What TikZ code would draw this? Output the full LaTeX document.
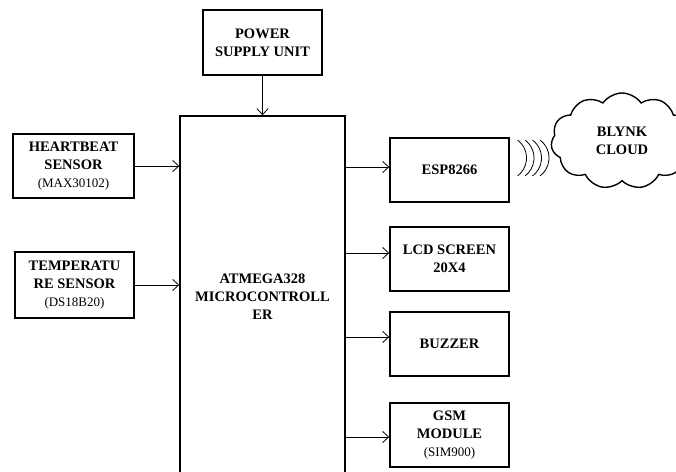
\documentclass[tikz,border=0pt]{standalone}
\usepackage{fontspec}
\setmainfont{Liberation Serif}
\usetikzlibrary{arrows.meta,shapes.symbols}

\newcommand{\partno}[1]{{\mdseries\fontsize{13}{18}\selectfont(#1)}}

\begin{document}
\begin{tikzpicture}[
		x=1pt, y=-1pt,
		every node/.style={
			align=center,
			font=\fontsize{14.5}{18}\selectfont\bfseries
		},
		block/.style={
			draw, line width=1.4pt, rectangle,
			minimum width=119pt, minimum height=64pt, inner sep=2pt
		},
		link/.style={draw, line width=0.8pt, -{Straight Barb[length=6pt,width=11pt]}},
		wave/.style={draw, line width=0.8pt}
		]
		\useasboundingbox (0,0) rectangle (676,471);
		\clip (0,0) rectangle (676,471);
		
		% controller and supply
		\node[block, minimum height=65pt] (psu) at (262.5,42.5) {POWER\\SUPPLY UNIT};
		\node[block, minimum width=165pt, minimum height=362pt] (mcu) at (262.5,297) {ATMEGA328\\MICROCONTROLL\\ER};
		
		% inputs
		\node[block, minimum width=121pt] (heart) at (73.5,166) {HEARTBEAT\\SENSOR\\\partno{MAX30102}};
		\node[block, minimum height=66pt] (temp) at (74.5,285) {TEMPERATU\\RE SENSOR\\\partno{DS18B20}};
		
		% outputs
		\node[block] (esp) at (449.5,170) {ESP8266};
		\node[block] (lcd) at (449.5,259) {LCD SCREEN\\20X4};
		\node[block] (buzz) at (449.5,344) {BUZZER};
		\node[block] (gsm) at (449.5,435) {GSM\\MODULE\\\partno{SIM900}};
		
		\node[draw, cloud, cloud puffs=11, cloud puff arc=110, aspect=1.5, line width=1.4pt,
			minimum width=142pt, minimum height=96pt] (blynk) at (622,141) {BLYNK\\CLOUD};
		
		\draw[link] (psu) -- (mcu);
		\draw[link] (heart) -- (heart -| mcu.west);
		\draw[link] (temp) -- (temp -| mcu.west);
		
		\coordinate (espin) at ([yshift=3pt]esp.west);
		\coordinate (lcdin) at ([yshift=6pt]lcd.west);
		\coordinate (buzzin) at ([yshift=7pt]buzz.west);
		\coordinate (gsmin) at ([yshift=-2pt]gsm.west);
		\foreach \n in {espin,lcdin,buzzin,gsmin}
			\draw[link] (\n -| mcu.east) -- (\n);
		
		% radio waves
		\coordinate (wv) at (504,158);
		\foreach \d in {0,7.5,15,22.5}
			\draw[wave] (wv) ++(\d,0) ++(-53:22.5) arc[start angle=-53, end angle=53, radius=22.5];
	\end{tikzpicture}
\end{document}
